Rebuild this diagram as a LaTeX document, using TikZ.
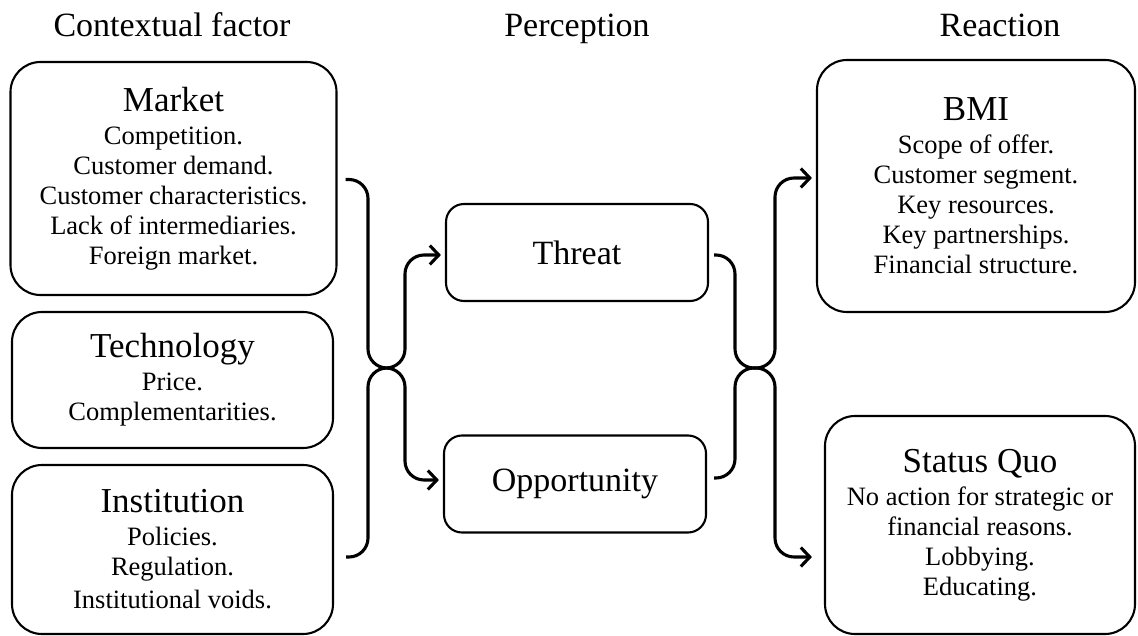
\documentclass[tikz,border=0pt]{standalone}
\usepackage{fontspec}
\setmainfont{Liberation Serif}
\usetikzlibrary{arrows.meta,calc}
\newcommand\boxtitle[1]{{\fontsize{35}{38}\selectfont #1}}
\tikzset{
  box/.style={draw, line width=2.1pt, rounded corners=30pt, align=center, inner sep=0pt,
    font=\fontsize{26.5}{30}\selectfont},
  smallbox/.style={box, rounded corners=18pt, minimum width=262pt, minimum height=97pt,
    font=\fontsize{34}{37}\selectfont},
  conn/.style={line width=3.1pt, rounded corners=19pt,
    -{Straight Barb[length=9pt,width=19pt]}},
  hdr/.style={font=\fontsize{34}{37}\selectfont, inner sep=0pt, anchor=base},
}
\begin{document}
\begin{tikzpicture}[x=1pt,y=1pt]
\useasboundingbox (0,0) rectangle (1138,-636);
% headers
\node[hdr] (h1) at (172,-37) {Contextual factor};
\node[hdr] (h2) at (577,-37) {Perception};
\node[hdr] (h3) at (1000,-37) {Reaction};
% left boxes
\node[box, minimum width=326pt, minimum height=233pt] (market) at (173.5,-178.5)
  {\boxtitle{Market}\\[3pt] Competition.\\ Customer demand.\\ Customer characteristics.\\ Lack of intermediaries.\\ Foreign market.};
\node[box, minimum width=321pt, minimum height=136pt] (tech) at (172.5,-380)
  {\boxtitle{Technology}\\[3pt] Price.\\ Complementarities.};
\node[box, minimum width=321pt, minimum height=169pt] (inst) at (172.5,-549.5)
  {\boxtitle{Institution}\\[3pt] Policies.\\ Regulation.\\[3pt] Institutional voids.};
% middle
\node[smallbox] (threat) at (577,-252.5) {Threat};
\node[smallbox] (opp) at (575,-484) {Opportunity};
% right
\node[box, minimum width=318pt, minimum height=252pt] (bmi) at (976,-186)
  {\boxtitle{BMI}\\[3pt] Scope of offer.\\ Customer segment.\\ Key resources.\\ Key partnerships.\\ Financial structure.};
\node[box, minimum width=310pt, minimum height=218pt] (sq) at (980,-525)
  {\boxtitle{Status Quo}\\[3pt] No action for strategic or\\ financial reasons.\\ Lobbying.\\ Educating.};
% connectors
\draw[conn] ([xshift=8pt,yshift=-1pt]market.east) -| (368,-368) -- (405,-368) |- ([xshift=-4pt,yshift=-2.5pt]threat.west);
\draw[conn] ([xshift=12pt,yshift=-7.5pt]inst.east) -| (368,-368) -- (405,-368) |- ([xshift=-4pt,yshift=4pt]opp.west);
\draw[conn] ([xshift=5pt,yshift=-2.5pt]threat.east) -| (735,-368) -- (775,-368) |- ([xshift=-4pt,yshift=8pt]bmi.west);
\draw[conn] ([xshift=7pt,yshift=6pt]opp.east) -| (735,-368) -- (775,-368) |- ([xshift=-12pt,yshift=-32pt]sq.west);
\end{tikzpicture}
\end{document}
